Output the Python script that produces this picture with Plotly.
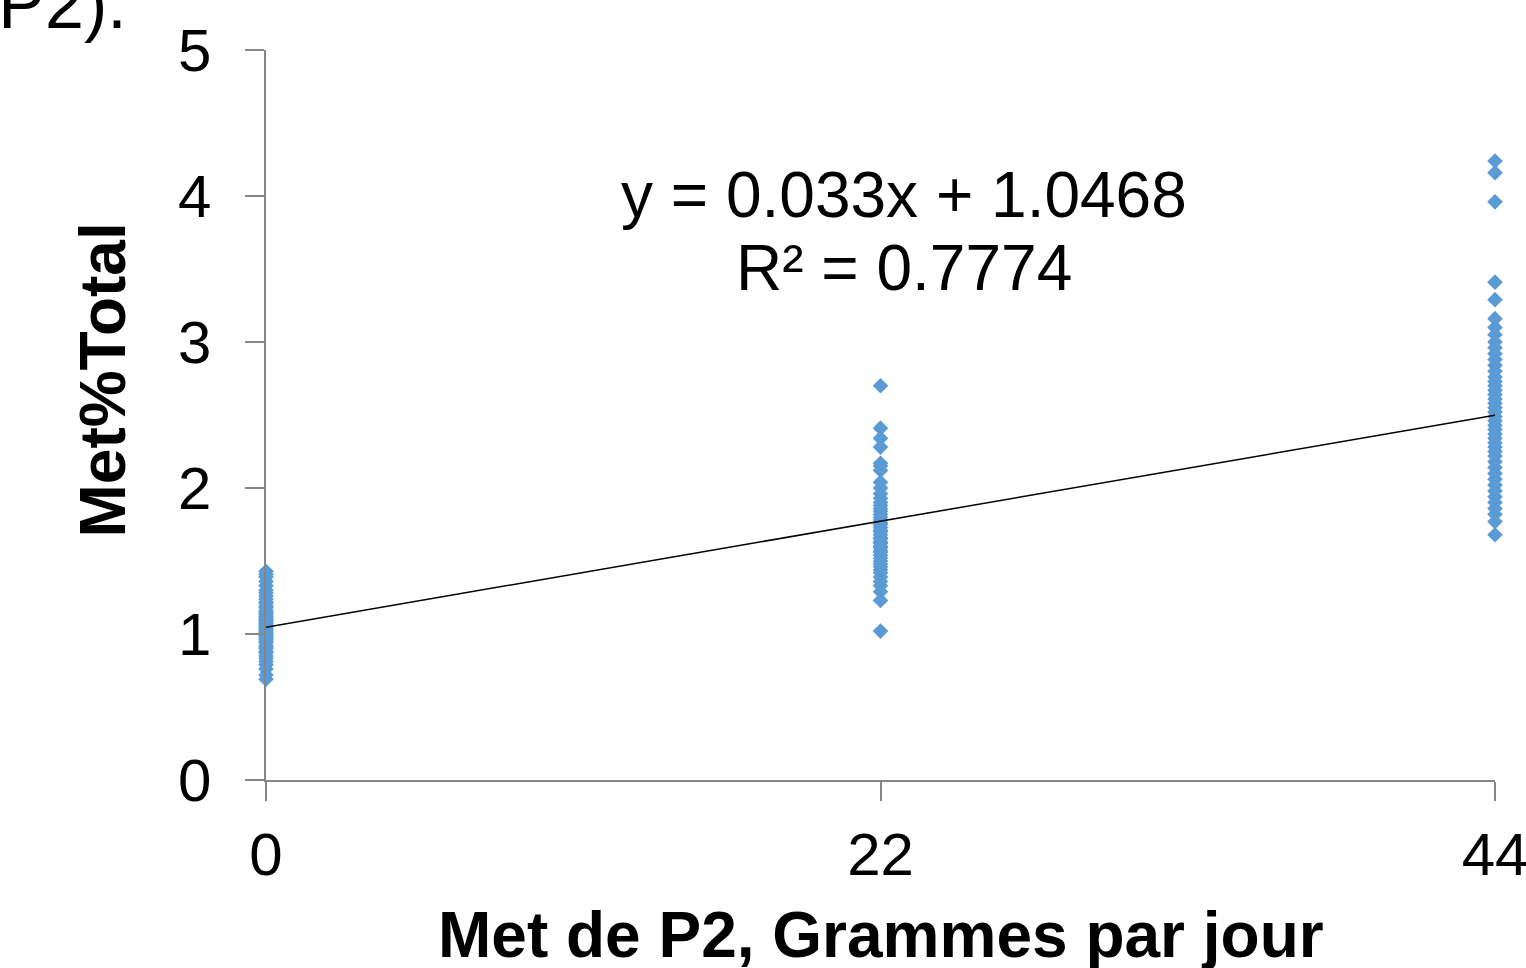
import plotly.graph_objects as go

# ---- data ----
x_levels = [0, 22, 44]
met_0 = [0.69, 0.72, 0.76, 0.79, 0.81, 0.83, 0.85, 0.87, 0.88, 0.90, 0.91, 0.92, 0.94, 0.95,
         0.96, 0.97, 0.98, 0.99, 1.00, 1.01, 1.02, 1.03, 1.04, 1.05, 1.06, 1.07, 1.08, 1.09,
         1.10, 1.11, 1.12, 1.13, 1.14, 1.15, 1.16, 1.18, 1.19, 1.21, 1.22, 1.24, 1.26, 1.28,
         1.30, 1.33, 1.36, 1.39, 1.41, 1.43]
met_22 = [1.02, 1.23, 1.29, 1.33, 1.36, 1.39, 1.42, 1.44, 1.46, 1.48, 1.50, 1.52, 1.54, 1.56,
          1.57, 1.59, 1.60, 1.62, 1.63, 1.65, 1.66, 1.68, 1.70, 1.71, 1.73, 1.75, 1.76, 1.78,
          1.80, 1.82, 1.84, 1.86, 1.88, 1.90, 1.93, 1.96, 2.00, 2.04, 2.12, 2.15, 2.17, 2.28,
          2.34, 2.41, 2.70]
met_44 = [1.68, 1.77, 1.82, 1.86, 1.90, 1.94, 1.98, 2.02, 2.06, 2.10, 2.14, 2.18, 2.22, 2.25,
          2.28, 2.31, 2.34, 2.37, 2.40, 2.43, 2.46, 2.49, 2.52, 2.55, 2.58, 2.61, 2.64, 2.67,
          2.70, 2.73, 2.76, 2.80, 2.84, 2.88, 2.92, 2.96, 3.00, 3.05, 3.10, 3.16, 3.29, 3.41,
          3.96, 4.16, 4.24]
slope = 0.033
intercept = 1.0468
r_squared = 0.7774
x_ticks = [0, 22, 44]
y_ticks = [0, 1, 2, 3, 4, 5]
x_title = "Met de P2, Grammes par jour"
y_title = "Met%Total"
caption_tail = "(P2)."

groups = [met_0, met_22, met_44]
xs, ys = [], []
for lv, vals in zip(x_levels, groups):
    xs += [lv] * len(vals)
    ys += vals

FONT = "Liberation Sans, Arial, sans-serif"
AX = "#868686"

fig = go.Figure()
fig.add_trace(go.Scatter(
    x=xs, y=ys, mode="markers",
    marker=dict(symbol="diamond", size=12, color="#5B9BD5", line=dict(width=0)),
    showlegend=False, hoverinfo="skip", cliponaxis=False))
line_x = [x_levels[0], x_levels[-1]]
fig.add_trace(go.Scatter(
    x=line_x, y=[slope * v + intercept for v in line_x], mode="lines",
    line=dict(color="black", width=1.5), showlegend=False, hoverinfo="skip"))

fig.update_layout(
    width=1526, height=968,
    margin=dict(l=266, r=31, t=50, b=188, autoexpand=False),
    paper_bgcolor="white", plot_bgcolor="white",
    font=dict(family=FONT, color="black"),
    xaxis=dict(range=[0, 44], tickvals=x_ticks, showgrid=False, zeroline=False,
               showline=True, linecolor=AX, linewidth=1.5,
               ticks="outside", ticklen=19, tickwidth=1.5, tickcolor=AX,
               tickfont=dict(size=60, family=FONT), ticklabelstandoff=2,
               ticklabeloverflow="allow", automargin=False),
    yaxis=dict(range=[0, 5], tickvals=y_ticks, showgrid=False, zeroline=False,
               showline=True, linecolor=AX, linewidth=1.5,
               ticks="outside", ticklen=19, tickwidth=1.5, tickcolor=AX,
               tickfont=dict(size=60, family=FONT), ticklabelstandoff=22,
               ticklabeloverflow="allow", automargin=False),
)

anns = [
    dict(text="<b>" + x_title + "</b>", x=0.5, y=-0.2125, xref="paper", yref="paper",
         xanchor="center", yanchor="middle", font=dict(size=64)),
    dict(text="<b>" + y_title + "</b>", x=-0.133, y=0.548, xref="paper", yref="paper",
         xanchor="center", yanchor="middle", textangle=-90, font=dict(size=64)),
    dict(text=f"y = {slope}x + {intercept}", x=0.519, y=(780 - 195) / 730, xref="paper",
         yref="paper", xanchor="center", yanchor="middle", font=dict(size=64)),
    dict(text=f"R² = {r_squared}", x=0.519, y=(780 - 268) / 730, xref="paper",
         yref="paper", xanchor="center", yanchor="middle", font=dict(size=64)),
    dict(text=caption_tail, x=(129 - 266) / 1229, y=(780 - 45) / 730, xref="paper",
         yref="paper", xanchor="right", yanchor="bottom", font=dict(size=70)),
]
for a in anns:
    a["showarrow"] = False
    fig.add_annotation(**a)

fig.write_html(
    "out.html",
    config={"displayModeBar": False},
    post_script="document.body.style.margin='0';document.body.style.overflow='hidden';",
)
